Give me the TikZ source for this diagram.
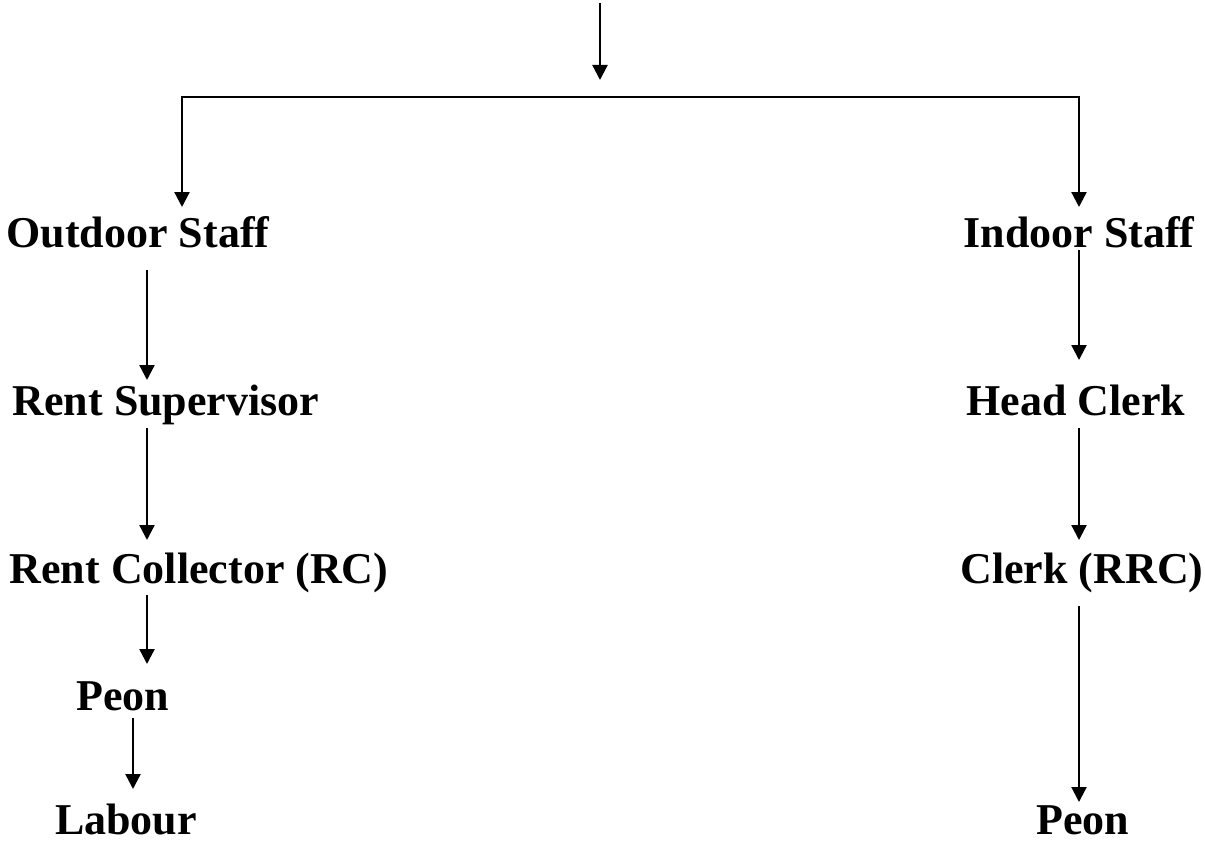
\documentclass[tikz,border=0pt]{standalone}
\usepackage{fontspec}
\setmainfont{Liberation Serif}
\usetikzlibrary{arrows.meta}
\begin{document}
\begin{tikzpicture}[x=1pt,y=-1pt,
  lbl/.style={inner sep=0pt, anchor=base, font=\fontsize{44}{52}\selectfont\bfseries},
  conn/.style={line width=2.3pt, line join=miter, -{Triangle[length=15pt,width=15pt]}}]
\useasboundingbox (0,0) rectangle (1205,843);
% columns
\coordinate (L0) at (182,0);
\coordinate (L) at (147,0);
\coordinate (Lp) at (133,0);
\coordinate (R) at (1079,0);
\coordinate (topstart) at (600,3);
\coordinate (topend) at (600,80);
\coordinate (bar) at (600,97);
% nodes
\node[lbl] (os) at (138,247) {Outdoor Staff};
\node[lbl] (is) at (1079,247) {Indoor Staff};
\node[lbl] (rs) at (166,415) {Rent Supervisor};
\node[lbl] (hc) at (1076,415) {Head Clerk};
\node[lbl] (rc) at (199,583) {Rent Collector (RC)};
\node[lbl] (ck) at (1082,583) {Clerk (RRC)};
\node[lbl] (pl) at (123,710) {Peon};
\node[lbl] (lb) at (126,834) {Labour};
\node[lbl] (pr) at (1083,834) {Peon};
% connectors
\draw[conn] (topstart) -- (topend);
\draw[conn] (bar) -| ([yshift=40pt]os.base -| L0);
\draw[conn] (bar) -| ([yshift=40pt]is.base -| R);
\draw[conn] ([yshift=-23pt]os.base -| L) -- ([yshift=35pt]rs.base -| L);
\draw[conn] ([yshift=-13pt]rs.base -| L) -- ([yshift=43pt]rc.base -| L);
\draw[conn] ([yshift=-12pt]rc.base -| L) -- ([yshift=46pt]pl.base -| L);
\draw[conn] ([yshift=-8pt]pl.base -| Lp) -- ([yshift=45pt]lb.base -| Lp);
\draw[conn] ([yshift=-3pt]is.base -| R) -- ([yshift=55pt]hc.base -| R);
\draw[conn] ([yshift=-13pt]hc.base -| R) -- ([yshift=43pt]ck.base -| R);
\draw[conn] ([yshift=-23pt]ck.base -| R) -- ([yshift=32pt]pr.base -| R);
\end{tikzpicture}
\end{document}
